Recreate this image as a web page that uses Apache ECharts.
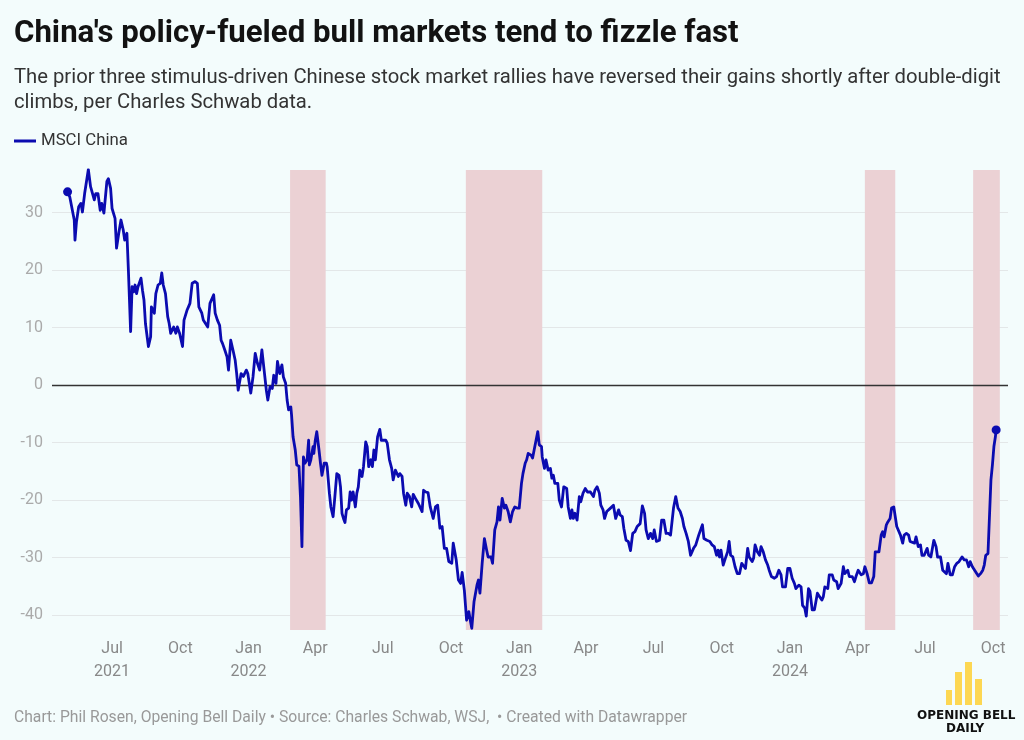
<!DOCTYPE html>
<html>
<head>
<meta charset="utf-8">
<script src="https://cdn.jsdelivr.net/npm/echarts@6/dist/echarts.min.js"></script>
<style>
html,body{margin:0;padding:0;background:#f3fcfc;}
#chart{width:1024px;height:740px;}
</style>
</head>
<body>
<div id="chart"></div>
<script>
const dates = [
"2021-05-02","2021-05-05","2021-05-11","2021-05-12","2021-05-14","2021-05-17","2021-05-20","2021-05-22","2021-05-25","2021-05-27","2021-05-30",
"2021-06-02","2021-06-04","2021-06-07","2021-06-09","2021-06-12","2021-06-15","2021-06-17","2021-06-20","2021-06-24","2021-06-26","2021-06-29",
"2021-07-01","2021-07-05","2021-07-07","2021-07-10","2021-07-13","2021-07-16","2021-07-18","2021-07-21","2021-07-23","2021-07-26","2021-07-28","2021-07-30",
"2021-08-01","2021-08-03","2021-08-05","2021-08-09","2021-08-11","2021-08-13","2021-08-15","2021-08-19","2021-08-22","2021-08-23","2021-08-27","2021-08-29",
"2021-09-01","2021-09-04","2021-09-06","2021-09-08","2021-09-11","2021-09-14","2021-09-16","2021-09-18","2021-09-22","2021-09-25","2021-09-27","2021-09-30",
"2021-10-04","2021-10-06","2021-10-10","2021-10-12","2021-10-14","2021-10-17","2021-10-21","2021-10-24","2021-10-26","2021-10-30",
"2021-11-01","2021-11-04","2021-11-07","2021-11-10","2021-11-12","2021-11-15","2021-11-17","2021-11-20","2021-11-23","2021-11-25","2021-11-27","2021-11-30",
"2021-12-03","2021-12-05","2021-12-08","2021-12-11","2021-12-14","2021-12-16","2021-12-18","2021-12-22","2021-12-25","2021-12-29","2021-12-31",
"2022-01-04","2022-01-07","2022-01-10","2022-01-13","2022-01-16","2022-01-19","2022-01-22","2022-01-25","2022-01-27","2022-01-30",
"2022-02-02","2022-02-04","2022-02-07","2022-02-09","2022-02-12","2022-02-15","2022-02-17","2022-02-20","2022-02-22","2022-02-24","2022-02-27","2022-02-28",
"2022-03-02","2022-03-05","2022-03-07","2022-03-10","2022-03-12","2022-03-14","2022-03-16","2022-03-18","2022-03-21","2022-03-23","2022-03-24","2022-03-26","2022-03-29","2022-03-30",
"2022-04-01","2022-04-03","2022-04-06","2022-04-08","2022-04-10","2022-04-13","2022-04-16","2022-04-17","2022-04-20","2022-04-22","2022-04-25","2022-04-27","2022-04-30",
"2022-05-03","2022-05-05","2022-05-07","2022-05-09","2022-05-11","2022-05-13","2022-05-16","2022-05-18","2022-05-20","2022-05-22","2022-05-25","2022-05-27","2022-05-29","2022-05-31",
"2022-06-03","2022-06-05","2022-06-08","2022-06-10","2022-06-12","2022-06-15","2022-06-17","2022-06-19","2022-06-21","2022-06-24","2022-06-27","2022-06-29",
"2022-07-02","2022-07-05","2022-07-07","2022-07-10","2022-07-13","2022-07-15","2022-07-18","2022-07-20","2022-07-22","2022-07-24","2022-07-27","2022-07-29",
"2022-08-01","2022-08-03","2022-08-06","2022-08-09","2022-08-11","2022-08-14","2022-08-18","2022-08-20","2022-08-23","2022-08-25","2022-08-28","2022-08-31",
"2022-09-03","2022-09-07","2022-09-10","2022-09-13","2022-09-16","2022-09-19","2022-09-22","2022-09-25","2022-09-28",
"2022-10-02","2022-10-04","2022-10-08","2022-10-11","2022-10-14","2022-10-16","2022-10-19","2022-10-22","2022-10-25","2022-10-27","2022-10-29",
"2022-11-01","2022-11-05","2022-11-07","2022-11-09","2022-11-12","2022-11-15","2022-11-18","2022-11-20","2022-11-24","2022-11-26","2022-11-29",
"2022-12-02","2022-12-04","2022-12-06","2022-12-09","2022-12-12","2022-12-14","2022-12-17","2022-12-20","2022-12-23","2022-12-26","2022-12-29",
"2023-01-01","2023-01-04","2023-01-06","2023-01-09","2023-01-11","2023-01-13","2023-01-17","2023-01-19","2023-01-22","2023-01-24","2023-01-26","2023-01-28","2023-01-31",
"2023-02-01","2023-02-04","2023-02-06","2023-02-09","2023-02-12","2023-02-14","2023-02-16","2023-02-18","2023-02-22","2023-02-24","2023-02-27",
"2023-03-02","2023-03-04","2023-03-06","2023-03-08","2023-03-11","2023-03-13","2023-03-15","2023-03-17","2023-03-20","2023-03-23","2023-03-25","2023-03-28","2023-03-31",
"2023-04-03","2023-04-07","2023-04-09","2023-04-11","2023-04-13","2023-04-16","2023-04-19","2023-04-21","2023-04-24","2023-04-26","2023-04-29",
"2023-05-04","2023-05-08","2023-05-11","2023-05-15","2023-05-17","2023-05-20","2023-05-22","2023-05-25","2023-05-28","2023-05-31",
"2023-06-03","2023-06-06","2023-06-09","2023-06-13","2023-06-16","2023-06-19","2023-06-21","2023-06-24","2023-06-27","2023-06-30",
"2023-07-02","2023-07-05","2023-07-09","2023-07-12","2023-07-15","2023-07-18","2023-07-21","2023-07-24","2023-07-28","2023-07-31",
"2023-08-03","2023-08-06","2023-08-09","2023-08-11","2023-08-14","2023-08-17","2023-08-20","2023-08-24","2023-08-27","2023-08-31",
"2023-09-02","2023-09-05","2023-09-07","2023-09-11","2023-09-15","2023-09-18","2023-09-21","2023-09-24","2023-09-26","2023-09-28","2023-09-30",
"2023-10-03","2023-10-06","2023-10-09","2023-10-11","2023-10-13","2023-10-16","2023-10-19","2023-10-22","2023-10-25","2023-10-28","2023-10-30",
"2023-11-02","2023-11-05","2023-11-07","2023-11-11","2023-11-13","2023-11-15","2023-11-18","2023-11-21","2023-11-23","2023-11-26","2023-11-29",
"2023-12-02","2023-12-04","2023-12-07","2023-12-11","2023-12-14","2023-12-17","2023-12-20","2023-12-22","2023-12-26","2023-12-29",
"2024-01-01","2024-01-04","2024-01-07","2024-01-09","2024-01-13","2024-01-16","2024-01-18","2024-01-21","2024-01-23","2024-01-26","2024-01-28","2024-01-31",
"2024-02-03","2024-02-05","2024-02-07","2024-02-10","2024-02-13","2024-02-15","2024-02-17","2024-02-21","2024-02-23","2024-02-27","2024-02-29",
"2024-03-02","2024-03-04","2024-03-06","2024-03-10","2024-03-13","2024-03-15","2024-03-19","2024-03-21","2024-03-25","2024-03-28","2024-03-30",
"2024-04-02","2024-04-06","2024-04-09","2024-04-11","2024-04-14","2024-04-17","2024-04-20","2024-04-23","2024-04-25","2024-04-27","2024-04-30",
"2024-05-03","2024-05-05","2024-05-07","2024-05-10","2024-05-12","2024-05-15","2024-05-17","2024-05-20","2024-05-22","2024-05-24","2024-05-26","2024-05-29",
"2024-06-01","2024-06-03","2024-06-06","2024-06-09","2024-06-11","2024-06-13","2024-06-17","2024-06-19","2024-06-22","2024-06-25","2024-06-27","2024-06-30",
"2024-07-04","2024-07-06","2024-07-09","2024-07-13","2024-07-16","2024-07-18","2024-07-22","2024-07-25","2024-07-27","2024-07-30",
"2024-08-01","2024-08-04","2024-08-07","2024-08-10","2024-08-13","2024-08-16","2024-08-20","2024-08-23","2024-08-26","2024-08-29","2024-08-31",
"2024-09-03","2024-09-06","2024-09-09","2024-09-11","2024-09-14","2024-09-17","2024-09-19","2024-09-21","2024-09-24","2024-09-26","2024-09-28","2024-09-30",
"2024-10-02","2024-10-04","2024-10-05"
];
const msciChina = [
33.6,32.7,28.7,25.2,28.4,31,31.6,30.1,33.3,33.6,37.5,
34.5,33.6,32.2,33.3,33.3,30.4,31.6,29.9,35.4,35.9,34.2,
30.7,29,23.8,26.4,28.7,27,25.2,26.4,20,9.3,17.1,16.2,
17.4,15.9,17.1,18.6,16.5,14.8,10.7,6.7,8.4,13.6,12.5,15.9,
17.4,17.7,19.5,17.4,15.9,11.9,10.7,9,10.1,9,10.1,9,
6.7,11.3,13,13.6,14.2,17.7,18,17.7,13.6,12.5,
11.3,10.7,10.1,14.2,14.2,15.7,12.5,11.3,10.4,7.8,7.2,6.1,
4.9,2.6,7.8,6.1,4.3,2,-0.9,2,1.5,2.6,2,
-1.4,1.4,5.5,3.8,2.6,6.1,2.6,-0.9,-2.6,-0.3,
-0.6,1.7,0.3,4.1,2,3.5,1.4,0.3,-2.6,-4.3,-3.8,-5.2,
-9,-11.3,-13.9,-14.1,-19.4,-28.1,-12.5,-13.6,-13,-9.6,-13.9,-13,-10.7,-11.9,
-9.6,-8.1,-11.3,-13.6,-15.7,-13.6,-13.6,-14.2,-18.8,-21.2,-22.9,-20,-15.4,
-15.7,-17.7,-22.3,-23.2,-23.9,-21.7,-21.4,-18.6,-20,-18.6,-21.2,-18.8,-17.7,-14.8,
-15.9,-14.2,-9.9,-10.7,-14.2,-13,-14.2,-11.3,-13,-9,-7.7,-9.6,
-9.6,-9.6,-10.1,-13,-14.5,-16.5,-14.8,-14.8,-15.9,-15.4,-15.9,-18.8,
-20.9,-18.8,-19.4,-21.2,-19,-19.7,-20.6,-20.6,-22,-18.3,-18.6,-18.7,
-21.2,-23.2,-21.2,-20.9,-24.9,-24.6,-28.4,-28.4,-30.7,
-31,-27.5,-30.4,-33.9,-34.5,-32.6,-35.7,-40.9,-39.4,-40.9,-42.3,
-37.7,-34.8,-33.9,-36.2,-31,-26.7,-28.7,-29.9,-29.9,-31,-25.2,
-23.8,-21.2,-23.5,-19.7,-21.4,-20.9,-22,-23.8,-22,-21.2,-21.4,
-21.4,-17.1,-15.4,-13.6,-13,-11.9,-12.2,-12.7,-10.7,-10.7,-8.1,-10.4,-10.7,
-12.5,-14.5,-13,-14.8,-14.5,-16.2,-15.7,-17.1,-17.1,-20,-21.2,
-17.7,-17.4,-18,-21.2,-23.2,-21.7,-23.2,-22.3,-23.5,-19.4,-20.3,-18.8,-18,
-18.6,-18.6,-18.3,-19.4,-18.3,-17.7,-18.8,-20.9,-21.7,-23.2,-22,
-21.4,-20.9,-23.2,-21.7,-22.6,-22.9,-24.9,-27,-27.2,-28.8,
-25.8,-25.5,-24.6,-24.1,-21,-22.3,-25.2,-26.7,-25.8,-26.7,
-25.2,-27.2,-27,-23.5,-23.5,-25.8,-25.8,-26.1,-21.4,-19.4,
-21.4,-22,-23.2,-24.6,-25.8,-27.2,-29.6,-28.4,-27.8,-26.1,
-25.8,-24.3,-26.7,-27,-27.2,-27.8,-28.1,-29.6,-28.7,-29.9,-28.7,
-31.3,-30.1,-29,-27.2,-29.6,-29.9,-31.6,-32.8,-32.8,-31,-30.7,
-31.9,-28.4,-29.9,-30.7,-30.1,-27.8,-29,-29.6,-28.1,-29,-30.4,
-31.3,-32.2,-33.3,-33.6,-33.3,-32.2,-33,-35.1,-35.1,-31.9,
-31.9,-33.6,-34.5,-35.4,-34.8,-35.1,-38.3,-38.8,-40.2,-35.4,-35.9,-39.1,
-39.1,-39.1,-36.2,-36.8,-37.4,-36.8,-35.1,-35.4,-33,-33,-33.9,
-33.6,-34.2,-35.4,-34.5,-31.6,-32.8,-32.2,-33.3,-33.3,-34.2,-33.3,
-32.2,-33,-32.8,-31.6,-32.8,-34.4,-34.4,-33.3,-29,-28.7,-29,
-26.1,-25.5,-26.4,-24.3,-23.8,-23.2,-21.4,-21.2,-22.9,-24.6,-24.3,-26.1,
-27.5,-26.1,-25.8,-26.1,-27.2,-27,-27.5,-26.4,-28.1,-27.8,-29.6,-29.6,
-28.4,-29.6,-29.9,-27,-28.1,-29.9,-29.9,-32.2,-31.9,-32.8,
-31,-33,-33,-31.6,-31,-30.7,-29.9,-30.4,-30.4,-31.6,-30.7,
-31.6,-32.2,-32.8,-33.2,-32.8,-32.2,-31.3,-29.6,-29.3,-22.9,-16.5,-13.9,
-10.7,-9,-7.8
];
const bandStarts = ["2022-02-26","2022-10-21","2024-04-11","2024-09-04"];
const bandEnds   = ["2022-04-15","2023-02-01","2024-05-22","2024-10-10"];
const yTicks = [-40,-30,-20,-10,0,10,20,30];
const xTicks = ["2021-07-01","2021-10-01","2022-01-01","2022-04-01","2022-07-01","2022-10-01",
  "2023-01-01","2023-04-01","2023-07-01","2023-10-01","2024-01-01","2024-04-01","2024-07-01","2024-10-01"];
const xRange = ["2021-04-11","2024-10-21"];
const monthNames = ["Jan","Feb","Mar","Apr","May","Jun","Jul","Aug","Sep","Oct","Nov","Dec"];

const ts = d => echarts.time.parse(d).getTime();
const seriesData = dates.map((d, i) => [ts(d), msciChina[i]]);
const xTickTs = xTicks.map(ts);
const lastIdx = msciChina.length - 1;
const FONT = 'Roboto, "Noto Sans", sans-serif';

const chart = echarts.init(document.getElementById('chart'), null, {renderer: 'canvas'});
chart.setOption({
  backgroundColor: '#f3fcfc',
  animation: false,
  textStyle: {fontFamily: FONT},
  title: [
    {text: "China's policy-fueled bull markets tend to fizzle fast", left: 14, top: 15, padding: 0,
     textStyle: {fontFamily: FONT, fontSize: 31.2, fontWeight: 'bold', color: '#121212', lineHeight: 38}},
    {text: "The prior three stimulus-driven Chinese stock market rallies have reversed their gains shortly after double-digit\nclimbs, per Charles Schwab data.",
     left: 14, top: 66, padding: 0,
     textStyle: {fontFamily: FONT, fontSize: 20.25, fontWeight: 'normal', color: '#333', lineHeight: 24.5}},
    {text: "Chart: Phil Rosen, Opening Bell Daily • Source: Charles Schwab, WSJ,  • Created with Datawrapper",
     left: 14, top: 709, padding: 0,
     textStyle: {fontFamily: FONT, fontSize: 15.7, fontWeight: 'normal', color: '#999', lineHeight: 18}}
  ],
  legend: {
    left: 14, top: 132, padding: 0, itemWidth: 22, itemHeight: 3, itemGap: 10,
    data: [{name: 'MSCI China', icon: 'rect'}],
    textStyle: {fontFamily: FONT, fontSize: 16.8, color: '#333', lineHeight: 18}
  },
  grid: {left: 52, right: 16, top: 170, bottom: 110, containLabel: false},
  xAxis: {
    type: 'value',
    min: ts(xRange[0]), max: ts(xRange[1]),
    axisLine: {show: false},
    axisTick: {show: false, customValues: xTickTs},
    splitLine: {show: false},
    axisLabel: {
      customValues: xTickTs,
      margin: 7,
      fontFamily: FONT, fontSize: 16, color: '#888', lineHeight: 23,
      formatter: function (v) {
        const dt = new Date(v);
        const m = dt.getMonth();
        if (m === 0 || v === xTickTs[0]) return monthNames[m] + '\n' + dt.getFullYear();
        return monthNames[m];
      }
    }
  },
  yAxis: {
    type: 'value',
    min: -42.6, max: 37.4,
    axisLine: {show: false},
    axisTick: {show: false, customValues: yTicks},
    axisLabel: {customValues: yTicks, margin: 9, fontFamily: FONT, fontSize: 16, color: '#aaa'},
    splitLine: {show: true, lineStyle: {color: '#e3e7e8', width: 1}}
  },
  series: [{
    name: 'MSCI China',
    type: 'line',
    data: seriesData,
    showSymbol: true,
    showAllSymbol: true,
    symbol: 'circle',
    symbolSize: function (val, params) {
      return (params.dataIndex === 0 || params.dataIndex === lastIdx) ? 9 : 0;
    },
    lineStyle: {color: '#0b0bb0', width: 2.8, join: 'round'},
    itemStyle: {color: '#0b0bb0'},
    emphasis: {disabled: true},
    z: 5,
    markArea: {
      silent: true,
      itemStyle: {color: '#ebd1d4'},
      data: bandStarts.map((s, i) => [{xAxis: ts(s)}, {xAxis: ts(bandEnds[i])}])
    },
    markLine: {
      silent: true, symbol: 'none', label: {show: false},
      lineStyle: {color: '#333', width: 1.3, type: 'solid'},
      data: [{yAxis: 0}]
    }
  }],
  graphic: [
    {type: 'rect', shape: {x: 946, y: 690, width: 6, height: 15}, style: {fill: '#fdd752'}},
    {type: 'rect', shape: {x: 955, y: 672, width: 7, height: 33}, style: {fill: '#fdd752'}},
    {type: 'rect', shape: {x: 965, y: 662, width: 7, height: 43}, style: {fill: '#fdd752'}},
    {type: 'rect', shape: {x: 975, y: 679, width: 7, height: 26}, style: {fill: '#fdd752'}},
    {type: 'text', left: 917, top: 710, style: {text: 'OPENING BELL', fontFamily: '"DejaVu Sans", sans-serif', fontSize: 12, fontWeight: 'bold', fill: '#111'}},
    {type: 'text', left: 946, top: 723, style: {text: 'DAILY', fontFamily: '"DejaVu Sans", sans-serif', fontSize: 12, fontWeight: 'bold', fill: '#111'}}
  ]
});
</script>
</body>
</html>
